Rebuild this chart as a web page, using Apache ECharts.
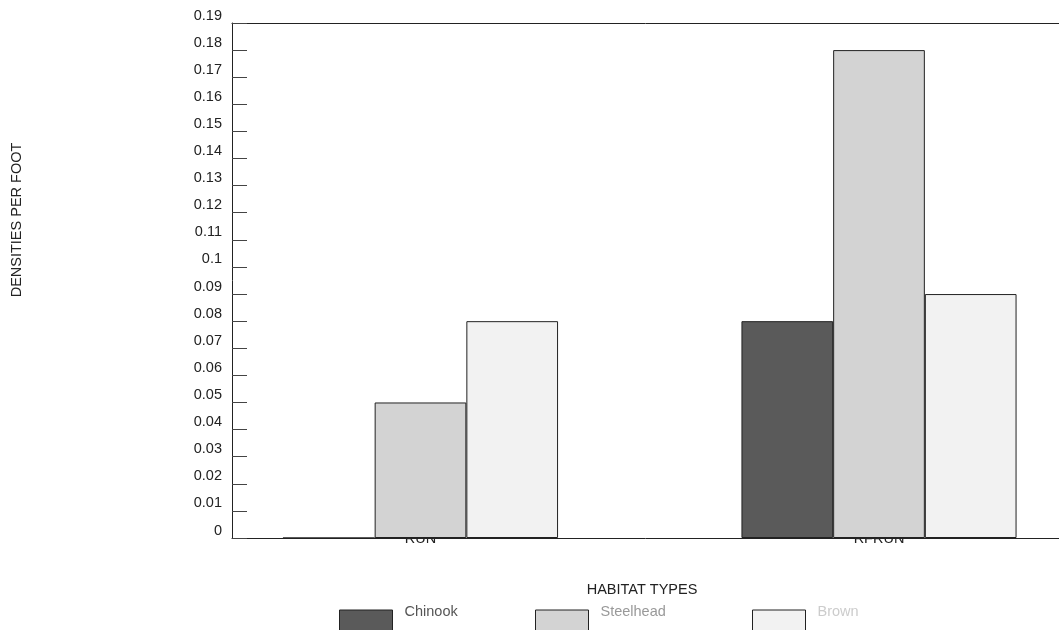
<!DOCTYPE html>
<html>
<head>
<meta charset="utf-8">
<script src="https://cdn.jsdelivr.net/npm/echarts@6/dist/echarts.min.js"></script>
<style>
html,body{margin:0;padding:0;background:#fff;}
#c{width:1059px;height:630px;}
</style>
</head>
<body>
<div id="c"></div>
<script>
var categories = ["RUN", "RFRUN"];
var chinook = [0, 0.08];
var steelhead = [0.05, 0.18];
var brown = [0.08, 0.09];
var seriesNames = ["Chinook", "Steelhead", "Brown"];
var yTickMin = 0, yTickMax = 0.19, yTickStep = 0.01;

var FONT = '"Liberation Sans", Arial, sans-serif';
var chart = echarts.init(document.getElementById('c'), null, {renderer: 'canvas'});

function barSeries(name, data, color) {
  return {
    name: name, type: 'bar', xAxisIndex: 0, yAxisIndex: 0,
    data: data, barWidth: '20%', barGap: '0%',
    itemStyle: {color: color, borderColor: '#222', borderWidth: 1},
    emphasis: {disabled: true}, animation: false, z: 3
  };
}

function oneLegend(name, left, textColor) {
  return {
    data: [name], left: left, top: 604, orient: 'horizontal', padding: 0,
    icon: 'rect', itemWidth: 53, itemHeight: 22, itemGap: 12,
    itemStyle: {borderColor: '#222', borderWidth: 1},
    formatter: '{t|{name}}',
    textStyle: {fontFamily: FONT, fontSize: 14.5, color: textColor,
      rich: {t: {fontFamily: FONT, fontSize: 14.5, color: textColor, padding: [0, 0, 19, 7]}}},
    selectedMode: false
  };
}

var option = {
  backgroundColor: '#fff',
  animation: false,
  grid: [
    {left: 191.25, width: 917, top: 23, bottom: 92, outerBoundsMode: 'none', containLabel: false},
    {left: 232, right: 0, top: 23, bottom: 92, outerBoundsMode: 'none', containLabel: false}
  ],
  xAxis: [
    {type: 'category', gridIndex: 0, data: categories,
     axisLine: {show: false}, axisTick: {show: false},
     axisLabel: {margin: -7, fontFamily: FONT, fontSize: 14.5, color: '#222'}},
    {type: 'category', gridIndex: 1, data: categories, position: 'bottom',
     axisLine: {show: true, lineStyle: {color: '#222', width: 1}},
     axisTick: {show: false}, axisLabel: {show: false}},
    {type: 'category', gridIndex: 1, data: categories, position: 'top',
     axisLine: {show: true, lineStyle: {color: '#222', width: 1}},
     axisTick: {show: false}, axisLabel: {show: false}}
  ],
  yAxis: [
    {type: 'value', gridIndex: 0, min: yTickMin, max: yTickMax, interval: yTickStep, show: false},
    {type: 'value', gridIndex: 1, min: yTickMin, max: yTickMax, interval: yTickStep,
     axisLine: {show: true, lineStyle: {color: '#222', width: 1}},
     axisTick: {show: true, inside: true, length: 15, lineStyle: {color: '#444', width: 1}},
     splitLine: {show: false},
     axisLabel: {margin: 10, fontFamily: FONT, fontSize: 14.5, color: '#222', verticalAlign: 'bottom'}}
  ],
  legend: [
    oneLegend(seriesNames[0], 339, '#555'),
    oneLegend(seriesNames[1], 535, '#999'),
    oneLegend(seriesNames[2], 752, '#ccc')
  ],
  graphic: [
    {type: 'text', x: 17, y: 220, rotation: Math.PI / 2,
     style: {text: 'DENSITIES PER FOOT', font: '14.5px ' + FONT, fill: '#222', align: 'center', verticalAlign: 'middle'}},
    {type: 'text', x: 642, y: 590,
     style: {text: 'HABITAT TYPES', font: '14.5px ' + FONT, fill: '#222', align: 'center', verticalAlign: 'middle'}}
  ],
  series: [
    barSeries(seriesNames[0], chinook, '#5a5a5a'),
    barSeries(seriesNames[1], steelhead, '#d3d3d3'),
    barSeries(seriesNames[2], brown, '#f2f2f2')
  ]
};
chart.setOption(option);
</script>
</body>
</html>
